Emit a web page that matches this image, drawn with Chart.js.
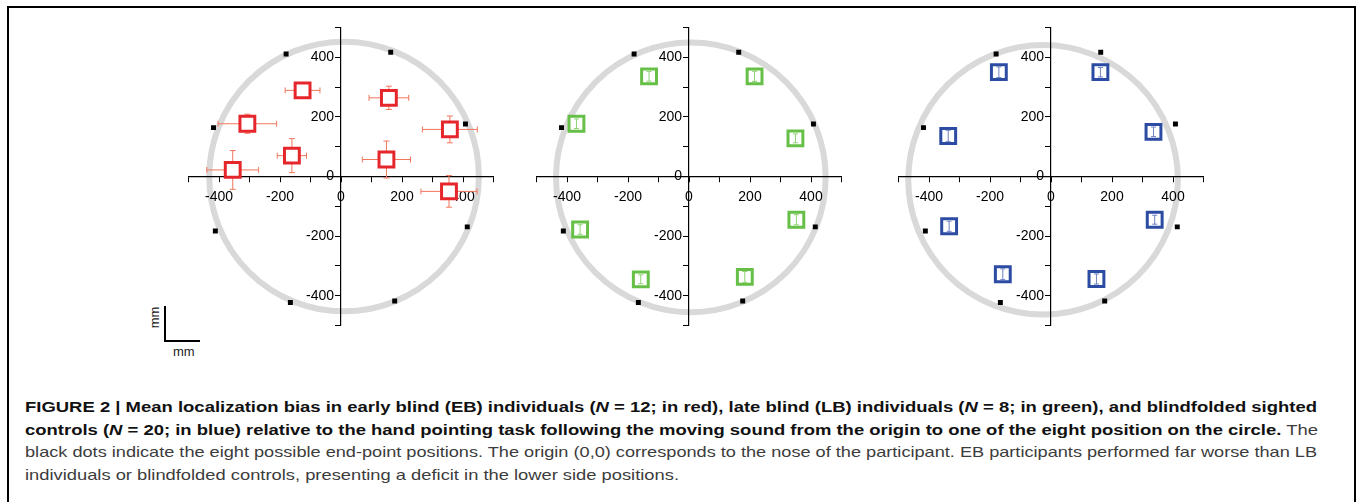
<!DOCTYPE html>
<html>
<head>
<meta charset="utf-8">
<script src="https://cdn.jsdelivr.net/npm/chart.js@4.4.1/dist/chart.umd.min.js"></script>
<style>
  html, body { margin: 0; padding: 0; background: #fff; }
  body { width: 1357px; height: 502px; position: relative; overflow: hidden; font-family: 'Liberation Sans', Arial, sans-serif; }
  .frame { position: absolute; left: 7px; top: 6px; width: 1349px; height: 530px; box-sizing: border-box; border: 2px solid #000; border-bottom: none; }
  .panel { position: absolute; top: 14px; }
  .caption { position: absolute; left: 25px; top: 396px; font-size: 14.5px; line-height: 22.7px; color: #3c3c3c; }
  .caption div { white-space: nowrap; transform-origin: 0 0; width: max-content; }
  .caption b { color: #111; }
  .bar-v { position: absolute; left: 164px; top: 306px; width: 2px; height: 36px; background: #000; }
  .bar-h { position: absolute; left: 164px; top: 340px; width: 36px; height: 2px; background: #000; }
  .mm { position: absolute; font-size: 13px; color: #222; }
  .mm-v { left: 144px; top: 310px; transform: rotate(-90deg); transform-origin: 50% 50%; }
  .mm-h { left: 173px; top: 344px; }
</style>
</head>
<body>
<div class="frame"></div>
<canvas id="eb" class="panel" width="332" height="325" style="left:175px"></canvas>
<canvas id="lb" class="panel" width="332" height="325" style="left:523px"></canvas>
<canvas id="sc" class="panel" width="332" height="325" style="left:885px"></canvas>

<div class="bar-v"></div>
<div class="bar-h"></div>
<span class="mm mm-v">mm</span>
<span class="mm mm-h">mm</span>

<div class="caption">
  <div data-w="1292"><b>FIGURE 2 | Mean localization bias in early blind (EB) individuals (<i>N</i> = 12; in red), late blind (LB) individuals (<i>N</i> = 8; in green), and blindfolded sighted</b></div>
  <div data-w="1293"><b>controls (<i>N</i> = 20; in blue) relative to the hand pointing task following the moving sound from the origin to one of the eight position on the circle.</b> The</div>
  <div data-w="1292">black dots indicate the eight possible end-point positions. The origin (0,0) corresponds to the nose of the participant. EB participants performed far worse than LB</div>
  <div data-w="654">individuals or blindfolded controls, presenting a deficit in the lower side positions.</div>
</div>

<script>
// axis range and ticks (mm)
const AXIS_MIN = -500;
const AXIS_MAX = 500;
const TICK_STEP = 100;
const LABEL_STEP = 200;

// the eight possible end-point positions (black dots)
const targetX = [-180, 163, -418, 408, -412, 414, -166, 176];
const targetY = [411, 417, 164, 176, -183, -169, -423, -418];

// early blind means and errors
const ebX = [-126, -307, -355, -161, 157, 357, 149, 354];
const ebY = [289, 177, 22, 70, 264, 158, 57, -50];
const ebErrX = [57, 96, 85, 48, 65, 90, 79, 92];
const ebErrY = [15, 32, 65, 57, 39, 45, 62, 53];

// late blind means and errors
const lbX = [-131, 215, -369, 349, -357, 352, -158, 183];
const lbY = [336, 336, 177, 128, -178, -145, -345, -337];
const lbErrY = [16, 17, 16, 15, 16, 17, 15, 18];

// blindfolded sighted controls
const scX = [-171, 162, -337, 336, -334, 340, -158, 149];
const scY = [350, 350, 136, 150, -167, -145, -328, -344];
const scErrY = [18, 16, 19, 16, 17, 15, 18, 17];

// grey reference circle per panel: radius and centre (mm)
const RING_RADIUS = 442;
const ringCX = [10, 6, -26];
const ringCY = [0, -3, -11];

const toPoints = (xs, ys) => xs.map((x, i) => ({x, y: ys[i]}));

const ringPlugin = {
  id: `ring`,
  beforeDraw(chart, args, opts) {
    const {ctx, scales: {x, y}} = chart;
    const cx = x.getPixelForValue(opts.cx);
    const cy = y.getPixelForValue(opts.cy);
    const r = x.getPixelForValue(opts.cx + opts.radius) - cx;
    ctx.save();
    ctx.beginPath();
    ctx.arc(cx, cy, r, 0, Math.PI * 2);
    ctx.lineWidth = 6;
    ctx.strokeStyle = `#d9d9d9`;
    ctx.stroke();
    ctx.restore();
  }
};

const drawErrors = (chart, opts) => {
  const {ctx, scales: {x, y}} = chart;
  const ds = chart.data.datasets[1];
  const cap = opts.cap;
  ctx.save();
  ctx.strokeStyle = opts.color;
  ctx.lineWidth = 1;
  ds.data.forEach((p, i) => {
    const px = x.getPixelForValue(p.x);
    const py = y.getPixelForValue(p.y);
    const ex = ds.errX ? ds.errX[i] : 0;
    const ey = ds.errY ? ds.errY[i] : 0;
    ctx.beginPath();
    if (ex) {
      const x1 = x.getPixelForValue(p.x - ex);
      const x2 = x.getPixelForValue(p.x + ex);
      ctx.moveTo(x1, py); ctx.lineTo(x2, py);
      ctx.moveTo(x1, py - cap); ctx.lineTo(x1, py + cap);
      ctx.moveTo(x2, py - cap); ctx.lineTo(x2, py + cap);
    }
    if (ey) {
      const y1 = y.getPixelForValue(p.y - ey);
      const y2 = y.getPixelForValue(p.y + ey);
      ctx.moveTo(px, y1); ctx.lineTo(px, y2);
      ctx.moveTo(px - cap, y1); ctx.lineTo(px + cap, y1);
      ctx.moveTo(px - cap, y2); ctx.lineTo(px + cap, y2);
    }
    ctx.stroke();
  });
  ctx.restore();
};

const errorPlugin = {
  id: `errorBars`,
  beforeDatasetsDraw(chart, args, opts) {
    if (!opts.onTop) drawErrors(chart, opts);
  },
  afterDatasetsDraw(chart, args, opts) {
    if (opts.onTop) drawErrors(chart, opts);
  }
};

const tickFont = {family: `'Liberation Sans Narrow', 'Liberation Sans', Arial, sans-serif`, size: 14};

const axis = (pos, extra) => ({
  type: `linear`,
  min: AXIS_MIN,
  max: AXIS_MAX,
  position: pos,
  border: {color: `#000`, width: 1.2},
  grid: {drawOnChartArea: false, drawTicks: true, tickLength: 5, tickColor: `#000`, tickWidth: 1},
  ticks: Object.assign({
    stepSize: TICK_STEP,
    autoSkip: false,
    maxRotation: 0,
    color: `#000`,
    font: tickFont,
    callback: (v) => (v % LABEL_STEP === 0 ? String(v) : ``)
  }, extra)
});

const createPanel = (id, idx, xs, ys, errX, errY, color, errColor, onTop) => {
  return new Chart(document.getElementById(id), {
    type: `scatter`,
    data: {
      datasets: [{
        data: toPoints(targetX, targetY),
        pointStyle: `rect`,
        pointRadius: 3.5,
        backgroundColor: `#000`,
        borderWidth: 0
      }, {
        data: toPoints(xs, ys),
        errX: errX,
        errY: errY,
        pointStyle: `rect`,
        pointRadius: 10.5,
        borderWidth: 3,
        borderColor: color,
        backgroundColor: `#fff`
      }]
    },
    options: {
      responsive: false,
      animation: false,
      events: [],
      layout: {padding: {left: 10, right: 10, top: 10, bottom: 10}},
      scales: {
        x: axis({y: 0}, {padding: 7}),
        y: axis({x: 0}, {padding: 0, callback: (v) => (v % LABEL_STEP === 0 ? `${v}\u2002` : ``)})
      },
      plugins: {
        legend: {display: false},
        tooltip: {enabled: false},
        ring: {cx: ringCX[idx], cy: ringCY[idx], radius: RING_RADIUS},
        errorBars: {color: errColor, onTop: onTop, cap: onTop ? 2.5 : 3}
      }
    },
    plugins: [ringPlugin, errorPlugin]
  });
};

createPanel(`eb`, 0, ebX, ebY, ebErrX, ebErrY, `#e5262b`, `#f2765c`, false);
createPanel(`lb`, 1, lbX, lbY, null, lbErrY, `#66bf47`, `#8ed174`, true);
createPanel(`sc`, 2, scX, scY, null, scErrY, `#2c4ca3`, `#6f82c4`, true);

// stretch each caption line to the measured width of the original
const fitCaption = () => {
  document.querySelectorAll(`.caption div`).forEach((line) => {
    const target = Number(line.dataset.w);
    const natural = line.getBoundingClientRect().width;
    line.style.transform = `scaleX(${target / natural})`;
  });
};
fitCaption();
</script>
</body>
</html>
